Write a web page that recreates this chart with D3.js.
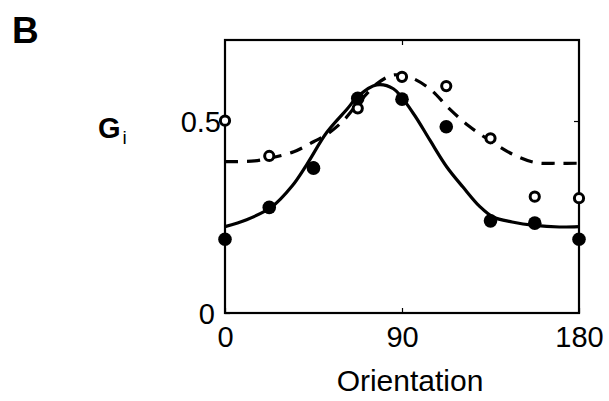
<!DOCTYPE html>
<html>
<head>
<meta charset="utf-8">
<script src="https://cdn.jsdelivr.net/npm/d3@7"></script>
<style>
  html, body { margin: 0; padding: 0; background: #fff; }
  text { font-family: "Liberation Sans", Arial, sans-serif; fill: #000; }
</style>
</head>
<body>
<svg id="chart" width="609" height="401"></svg>
<script>
// Data
const orientations = [0, 22.5, 45, 67.5, 90, 112.5, 135, 157.5, 180];
const filledValues = [0.192, 0.275, 0.377, 0.559, 0.557, 0.485, 0.240, 0.234, 0.192];
const openValues   = [0.501, 0.409, 0.380, 0.533, 0.615, 0.591, 0.455, 0.303, 0.299];

// Fitted curves
const solidCurveX = [0, 11, 23.7, 34, 41.5, 51.7, 61.9, 67.8, 77, 85.6, 95.6, 104.2, 112.7, 121, 129.6, 136.3, 146, 157.5, 170, 180];
const solidCurveY = [0.225, 0.243, 0.276, 0.33, 0.386, 0.47, 0.53, 0.565, 0.594, 0.584, 0.521, 0.45, 0.381, 0.328, 0.277, 0.25, 0.237, 0.228, 0.224, 0.225];
const dashedCurveX = [0, 15, 22.5, 35, 45, 52, 60, 67.5, 78, 86, 95, 105, 113.5, 124, 135, 146, 157.5, 170, 180];
const dashedCurveY = [0.394, 0.396, 0.403, 0.42, 0.446, 0.466, 0.50, 0.545, 0.60, 0.62, 0.612, 0.58, 0.535, 0.487, 0.448, 0.414, 0.392, 0.39, 0.39];

const xTicks = [0, 90, 180];
const yTicks = [0, 0.5];
const yTickLabels = ["0", "0.5"];

const svg = d3.select("#chart");
const pLeft = 225, pRight = 579, pTop = 40, pBottom = 313;

const x = d3.scaleLinear().domain([0, 180]).range([pLeft, pRight]);
const y = d3.scaleLinear().domain([0, 0.711]).range([pBottom, pTop]);

// Panel letter
svg.append("text").attr("x", 12).attr("y", 43)
  .attr("font-size", 37).attr("font-weight", "bold").text("B");

// Y label G_i
const gl = svg.append("text").attr("x", 98).attr("y", 138)
  .attr("font-size", 29).attr("font-weight", "bold");
gl.append("tspan").text("G");
gl.append("tspan").attr("font-size", 19).attr("font-weight", "normal")
  .attr("dx", 2).attr("dy", 6).text("i");

// Frame
svg.append("rect")
  .attr("x", pLeft).attr("y", pTop)
  .attr("width", pRight - pLeft).attr("height", pBottom - pTop)
  .attr("fill", "none").attr("stroke", "#000").attr("stroke-width", 2.2);

// Axes (ticks + labels) via d3 axes
const xAxis = d3.axisBottom(x).tickValues(xTicks).tickSize(-5).tickPadding(13).tickFormat(d3.format("d"));
const gx = svg.append("g").attr("transform", `translate(0,${pBottom})`).call(xAxis);
gx.select(".domain").remove();
gx.selectAll("line").attr("stroke", "#000").attr("stroke-width", 1.2);
gx.selectAll("text").attr("font-size", 29).attr("font-family", "Liberation Sans, Arial, sans-serif").attr("dy", "0.72em");

const yAxis = d3.axisLeft(y).tickValues(yTicks).tickSize(-5).tickPadding(4).tickFormat((d, i) => yTickLabels[i]);
const gy = svg.append("g").attr("transform", `translate(${pLeft},0)`).call(yAxis);
gy.select(".domain").remove();
gy.selectAll("line").attr("stroke", "#000").attr("stroke-width", 1.2);
gy.selectAll("text").attr("font-size", 29).attr("font-family", "Liberation Sans, Arial, sans-serif").attr("dy", "0.36em");
gy.selectAll(".tick").filter(d => d === 0).select("text").attr("x", -10);

// Right side / top ticks
const gyr = svg.append("g").attr("transform", `translate(${pRight},0)`)
  .call(d3.axisRight(y).tickValues([0.5]).tickSize(-5).tickFormat(""));
gyr.select(".domain").remove();
gyr.selectAll("line").attr("stroke", "#000").attr("stroke-width", 1.2);
const gxt = svg.append("g").attr("transform", `translate(0,${pTop})`)
  .call(d3.axisTop(x).tickValues([90]).tickSize(-5).tickFormat(""));
gxt.select(".domain").remove();
gxt.selectAll("line").attr("stroke", "#000").attr("stroke-width", 1.2);

// X title
svg.append("text").attr("x", 410).attr("y", 391).attr("text-anchor", "middle")
  .attr("font-size", 30).text("Orientation");

// Curves
const line = d3.line().x(d => x(d[0])).y(d => y(d[1])).curve(d3.curveCatmullRom.alpha(0.5));
svg.append("path")
  .datum(dashedCurveX.map((v, i) => [v, dashedCurveY[i]]))
  .attr("d", line).attr("fill", "none").attr("stroke", "#000")
  .attr("stroke-width", 3.2).attr("stroke-dasharray", "13,9");
svg.append("path")
  .datum(solidCurveX.map((v, i) => [v, solidCurveY[i]]))
  .attr("d", line).attr("fill", "none").attr("stroke", "#000")
  .attr("stroke-width", 3.2);

// Open circles
svg.selectAll("circle.open").data(orientations.map((v, i) => [v, openValues[i]]))
  .join("circle").attr("class", "open")
  .attr("cx", d => x(d[0])).attr("cy", d => y(d[1])).attr("r", 4.6)
  .attr("fill", "#fff").attr("stroke", "#000").attr("stroke-width", 3);

// Filled circles
svg.selectAll("circle.filled").data(orientations.map((v, i) => [v, filledValues[i]]))
  .join("circle").attr("class", "filled")
  .attr("cx", d => x(d[0])).attr("cy", d => y(d[1])).attr("r", 6.8)
  .attr("fill", "#000");
</script>
</body>
</html>
